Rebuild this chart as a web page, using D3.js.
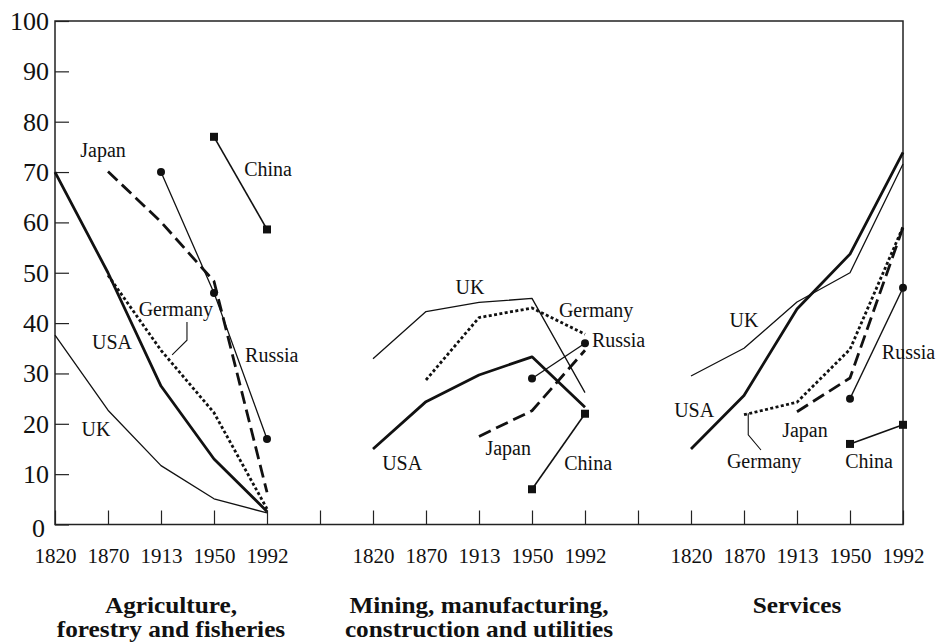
<!DOCTYPE html>
<html><head><meta charset="utf-8">
<script src="https://cdn.jsdelivr.net/npm/d3@7"></script>
<style>
html,body{margin:0;padding:0;background:#fff;}
svg{display:block;font-family:"Liberation Serif","Times New Roman",serif;}
</style></head>
<body>
<svg id="chart" width="937" height="642"></svg>
<script>
// ---------- data ----------
const years = [1820, 1870, 1913, 1950, 1992];
const sectors = ["Agriculture", "Industry", "Services"];
const sectorTitles = [
  ["Agriculture,", "forestry and fisheries"],
  ["Mining, manufacturing,", "construction and utilities"],
  ["Services"]
];
const yTicks = [0, 10, 20, 30, 40, 50, 60, 70, 80, 90, 100];

// Agriculture, forestry and fisheries (% of employment)
const usaAgri     = [70.0, 50.0, 27.5, 13.0, 2.6];
const ukAgri      = [37.6, 22.7, 11.7, 5.1, 2.3];
const germanyAgri = [null, 49.5, 34.6, 22.2, 3.1];
const japanAgri   = [null, 70.1, 60.1, 48.3, 6.4];
const russiaAgri  = [null, null, 70.0, 46.0, 17.0];
const chinaAgri   = [null, null, null, 77.0, 58.6];

// Mining, manufacturing, construction and utilities
const usaInd      = [15.0, 24.4, 29.7, 33.3, 23.3];
const ukInd       = [32.9, 42.3, 44.1, 44.9, 26.2];
const germanyInd  = [null, 28.7, 41.1, 43.0, 37.8];
const japanInd    = [null, null, 17.5, 22.6, 34.6];
const russiaInd   = [null, null, null, 29.0, 36.0];
const chinaInd    = [null, null, null, 7.0, 22.0];

// Services
const usaServ     = [15.0, 25.6, 42.8, 53.7, 73.9];
const ukServ      = [29.5, 35.0, 44.2, 50.0, 71.6];
const germanyServ = [null, 21.8, 24.3, 34.8, 59.1];
const japanServ   = [null, null, 22.4, 29.1, 59.0];
const russiaServ  = [null, null, null, 25.0, 47.0];
const chinaServ   = [null, null, null, 16.0, 19.8];

const countries = ["USA", "UK", "Germany", "Japan", "Russia", "China"];
const seriesBySector = [
  [usaAgri, ukAgri, germanyAgri, japanAgri, russiaAgri, chinaAgri],
  [usaInd, ukInd, germanyInd, japanInd, russiaInd, chinaInd],
  [usaServ, ukServ, germanyServ, japanServ, russiaServ, chinaServ]
];

// ---------- styles ----------
const styles = {
  USA:     {w: 2.8, dash: null,    marker: null},
  UK:      {w: 1.3, dash: null,    marker: null},
  Germany: {w: 2.8, dash: "3,2.4", marker: null},
  Japan:   {w: 2.8, dash: "13,6",  marker: null},
  Russia:  {w: 1.3, dash: null,    marker: "circle"},
  China:   {w: 1.6, dash: null,    marker: "square"}
};

// label anchors: [text, slot position (fractional), value, anchor]
const labels = [
  ["Japan", 0.906, 73.0, "middle"], ["China", 4.02, 69.2, "middle"],
  ["Germany", 2.28, 41.4, "middle"], ["USA", 1.075, 34.9, "middle"],
  ["UK", 0.774, 17.6, "middle"], ["Russia", 4.09, 32.3, "middle"],
  ["UK", 7.83, 45.8, "middle"], ["Germany", 10.21, 41.2, "middle"],
  ["Russia", 10.13, 35.3, "start"], ["USA", 6.55, 10.8, "middle"],
  ["Japan", 8.55, 13.8, "middle"], ["China", 10.06, 10.8, "middle"],
  ["UK", 13.0, 39.2, "middle"], ["USA", 12.06, 21.4, "middle"],
  ["Germany", 13.38, 11.2, "middle"], ["Japan", 14.15, 17.4, "middle"],
  ["China", 15.36, 11.2, "middle"], ["Russia", 15.6, 32.9, "start"]
];
const leaders = [
  [[2.49, 40.2], [2.49, 36.6], [2.21, 33.7]],
  [[13.08, 22.1], [13.08, 17.8], [13.32, 14.8]]
];

// ---------- layout ----------
const svg = d3.select("#chart");
const mLeft = 55, mRight = 903, mTop = 21, mBottom = 524.5;

const slots = [];
sectors.forEach((s, p) => {
  years.forEach(yr => slots.push(s + "|" + yr));
  if (p < sectors.length - 1) slots.push("gap" + p);
});
const x = d3.scalePoint().domain(slots).range([mLeft, mRight]);
const y = d3.scaleLinear().domain([0, 100]).range([mBottom, mTop]);
const xi = f => mLeft + f * x.step();

// frame
svg.append("rect").attr("x", mLeft).attr("y", mTop)
  .attr("width", mRight - mLeft).attr("height", mBottom - mTop)
  .attr("fill", "none").attr("stroke", "#222").attr("stroke-width", 1.5);

// x axis
const xAxis = d3.axisBottom(x).tickSize(-14).tickPadding(24)
  .tickFormat(d => d.startsWith("gap") ? "" : d.split("|")[1]);
const gx = svg.append("g").attr("transform", `translate(0,${mBottom})`).call(xAxis);
gx.select(".domain").remove();
gx.selectAll(".tick line").attr("stroke", "#222").attr("stroke-width", 1.2);
gx.selectAll(".tick text").attr("font-size", 21).attr("fill", "#111")
  .attr("font-family", "Liberation Serif");

// y axis
const yAxis = d3.axisLeft(y).tickValues(yTicks).tickSize(-14).tickPadding(6);
const gy = svg.append("g").attr("transform", `translate(${mLeft},0)`).call(yAxis);
gy.select(".domain").remove();
gy.selectAll(".tick line").attr("stroke", "#222").attr("stroke-width", 1.2);
gy.selectAll(".tick text").attr("font-size", 26).attr("fill", "#111")
  .attr("font-family", "Liberation Serif");
gy.selectAll(".tick text").filter(d => d === 0)
  .attr("x", -10).attr("dy", "0.47em");

// lines
const line = d3.line()
  .defined(d => d.v !== null)
  .x(d => x(d.key)).y(d => y(d.v));

sectors.forEach((s, p) => {
  countries.forEach((c, ci) => {
    const vals = seriesBySector[p][ci];
    const pts = years.map((yr, i) => ({key: s + "|" + yr, v: vals[i]}));
    const st = styles[c];
    svg.append("path").datum(pts)
      .attr("d", line)
      .attr("fill", "none").attr("stroke", "#111")
      .attr("stroke-width", st.w)
      .attr("stroke-dasharray", st.dash)
      .attr("stroke-linejoin", "round");
    const def = pts.filter(d => d.v !== null);
    if (st.marker === "circle") {
      svg.selectAll(null).data(def).enter().append("circle")
        .attr("cx", d => x(d.key)).attr("cy", d => y(d.v)).attr("r", 4)
        .attr("fill", "#111");
    } else if (st.marker === "square") {
      svg.selectAll(null).data(def).enter().append("rect")
        .attr("x", d => x(d.key) - 4).attr("y", d => y(d.v) - 4)
        .attr("width", 8).attr("height", 8).attr("fill", "#111");
    }
  });
});

// labels
svg.selectAll(null).data(labels).enter().append("text")
  .attr("x", d => xi(d[1])).attr("y", d => y(d[2]))
  .attr("text-anchor", d => d[3])
  .attr("font-size", 20).attr("fill", "#111")
  .text(d => d[0]);

// leader lines
svg.selectAll(null).data(leaders).enter().append("path")
  .attr("d", d => d3.line().x(p => xi(p[0])).y(p => y(p[1]))(d))
  .attr("fill", "none").attr("stroke", "#111").attr("stroke-width", 1.1);

// sector titles
sectorTitles.forEach((lines, p) => {
  const cx = x(sectors[p] + "|" + years[2]) + (p === 0 ? 10 : 0);
  lines.forEach((ln, i) => {
    svg.append("text").attr("text-anchor", "middle")
      .attr("transform", `translate(${cx},${613 + i * 24}) scale(1.1,1)`)
      .attr("font-size", 23).attr("font-weight", "bold").attr("fill", "#111")
      .text(ln);
  });
});
</script>
</body></html>
